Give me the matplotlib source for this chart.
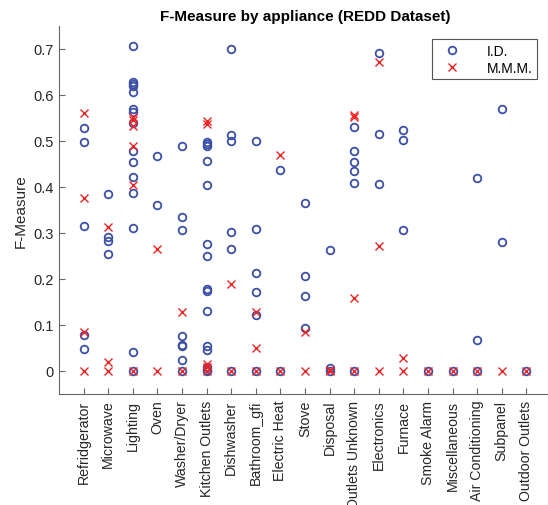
#!/usr/bin/env python3

import matplotlib
matplotlib.use('Agg')
import matplotlib.pyplot as plt
import numpy as np

# Categorías (electrodomésticos)
appliances = ['Refridgerator', 'Microwave', 'Lighting', 'Oven', 'Washer/Dryer',
              'Kitchen Outlets', 'Dishwasher', 'Bathroom_gfi', 'Electric Heat',
              'Stove', 'Disposal', 'Outlets Unknown', 'Electronics', 'Furnace',
              'Smoke Alarm', 'Miscellaneous', 'Air Conditioning', 'Subpanel',
              'Outdoor Outlets']

# F-Measure por casa, método I.D.
id_vals = [
    [0.529, 0.497, 0.315, 0.079, 0.048],
    [0.384, 0.291, 0.283, 0.255],
    [0.707, 0.628, 0.625, 0.620, 0.607, 0.570, 0.564, 0.539, 0.478, 0.454,
     0.422, 0.388, 0.311, 0.042, 0.0],
    [0.467, 0.360],
    [0.490, 0.334, 0.306, 0.077, 0.057, 0.054, 0.025, 0.0],
    [0.498, 0.493, 0.489, 0.456, 0.405, 0.276, 0.250, 0.179, 0.175, 0.130,
     0.054, 0.045, 0.009, 0.003, 0.0],
    [0.701, 0.512, 0.501, 0.302, 0.265, 0.0],
    [0.500, 0.308, 0.213, 0.171, 0.121, 0.0],
    [0.437, 0.0],
    [0.365, 0.207, 0.164, 0.094],
    [0.264, 0.007, 0.0],
    [0.530, 0.479, 0.454, 0.435, 0.409, 0.0],
    [0.692, 0.515, 0.407],
    [0.523, 0.503, 0.306],
    [0.0],
    [0.0],
    [0.420, 0.067, 0.0],
    [0.569, 0.280],
    [0.0],
]

# F-Measure por casa, método M.M.M.
mmm_vals = [
    [0.561, 0.377, 0.085, 0.0],
    [0.312, 0.019, 0.0],
    [0.553, 0.545, 0.533, 0.489, 0.404, 0.0],
    [0.266, 0.0],
    [0.128, 0.0],
    [0.543, 0.536, 0.016, 0.009, 0.0],
    [0.189, 0.0],
    [0.128, 0.050, 0.0],
    [0.469, 0.0],
    [0.084, 0.0],
    [0.003, 0.0],
    [0.556, 0.552, 0.159, 0.0],
    [0.672, 0.272, 0.0],
    [0.028, 0.0],
    [0.0],
    [0.0],
    [0.0],
    [0.0],
    [0.0],
]

plt.rcParams['font.family'] = ['Liberation Sans', 'DejaVu Sans']

fig = plt.figure(figsize=(5.48, 5.06), dpi=100)
ax = fig.add_axes([59 / 548, 111 / 506, 492 / 548, 368 / 506])

blue = '#3b4fa6'
red = '#f22222'

for i, vals in enumerate(id_vals):
    xs = np.full(len(vals), i + 1)
    ax.plot(xs, vals, linestyle='none', marker='o', markersize=5.5,
            markerfacecolor='none', markeredgecolor=blue, markeredgewidth=1.3,
            label='I.D.' if i == 0 else None)

for i, vals in enumerate(mmm_vals):
    xs = np.full(len(vals), i + 1)
    ax.plot(xs, vals, linestyle='none', marker='x', markersize=5.5,
            color=red, markeredgewidth=1.0,
            label='M.M.M.' if i == 0 else None)

ax.set_xlim(0, 20)
ax.set_ylim(-0.05, 0.75)
ax.set_xticks(np.arange(1, len(appliances) + 1))
ax.set_xticklabels(appliances, rotation=90, fontsize=10.2)
ax.set_yticks(np.arange(0, 0.71, 0.1))
ax.set_yticklabels(['0', '0.1', '0.2', '0.3', '0.4', '0.5', '0.6', '0.7'], fontsize=10.5)

for side in ['top', 'right']:
    ax.spines[side].set_visible(False)
for side in ['left', 'bottom']:
    ax.spines[side].set_color('#666666')
    ax.spines[side].set_linewidth(0.8)
ax.tick_params(direction='in', length=4, width=0.8, color='#666666',
               labelcolor='#262626', pad=4)

ax.set_ylabel('F-Measure', fontsize=11, color='#262626')
ax.set_title('F-Measure by appliance (REDD Dataset)', fontsize=11,
             fontweight='bold', pad=4)

leg = ax.legend(loc='upper right', bbox_to_anchor=(0.972, 0.965),
                borderaxespad=0, fontsize=10, fancybox=False, framealpha=1,
                edgecolor='#555555', handletextpad=1.4, borderpad=0.35,
                labelspacing=0.2, handlelength=2.2)
leg.get_frame().set_linewidth(0.8)

fig.savefig('out.png', dpi=100)
